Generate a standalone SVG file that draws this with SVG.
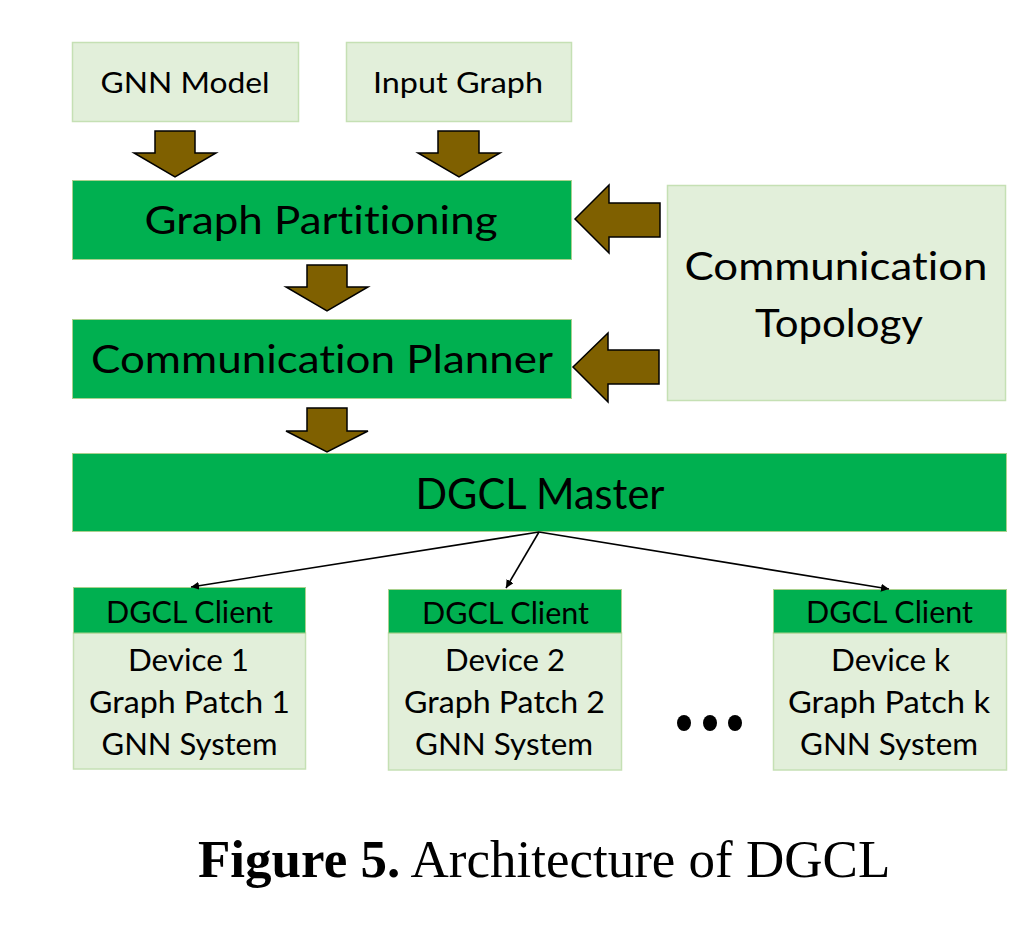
<svg xmlns="http://www.w3.org/2000/svg" width="1031" height="937" viewBox="0 0 1031 937">
  <style>
    .light { fill: #E2EFDA; stroke: #C5E0B4; stroke-width: 1.5; }
    .dark { fill: #00B050; stroke: #A9D18E; stroke-width: 1; }
    .t { font-family: Lato, "Open Sans", "Liberation Sans", sans-serif; fill: #000; text-anchor: middle; font-variant-ligatures: none; font-feature-settings: "liga" 0, "dlig" 0; }
    .big { font-size: 39px; }
    .mid { font-size: 29px; }
    .cl { font-size: 31px; }
    .block { fill: #7F6000; stroke: #000; stroke-width: 1.5; stroke-linejoin: miter; }
    .conn { stroke: #000; stroke-width: 1.6; fill: none; marker-end: url(#ah); }
    .cap { font-family: "Liberation Serif", "Times New Roman", serif; font-size: 53px; fill: #000; }
  </style>
  <defs>
    <marker id="ah" viewBox="0 0 10 10" refX="10" refY="5" markerWidth="8" markerHeight="8" markerUnits="userSpaceOnUse" orient="auto">
      <path d="M0,0 L10,5 L0,10 z" fill="#000"/>
    </marker>
  </defs>
  <rect width="1031" height="937" fill="#fff"/>

  <g id="gnn-model">
    <rect class="light" x="72.5" y="42.5" width="226" height="79"/>
    <text class="t mid" x="185" y="93" textLength="169" lengthAdjust="spacingAndGlyphs">GNN Model</text>
  </g>
  <g id="input-graph">
    <rect class="light" x="346.5" y="42.5" width="225" height="79"/>
    <text class="t mid" x="458" y="93" textLength="170" lengthAdjust="spacingAndGlyphs">Input Graph</text>
  </g>
  <g id="graph-partitioning">
    <rect class="dark" x="72.5" y="180.5" width="499" height="79"/>
    <text class="t big" x="321" y="234" textLength="353" lengthAdjust="spacingAndGlyphs">Graph Partitioning</text>
  </g>
  <g id="communication-planner">
    <rect class="dark" x="72.5" y="319.5" width="499" height="79"/>
    <text class="t big" x="322" y="373" textLength="462" lengthAdjust="spacingAndGlyphs">Communication Planner</text>
  </g>
  <g id="communication-topology">
    <rect class="light" x="667.5" y="185.5" width="338" height="215"/>
    <text class="t big" x="836" y="280" textLength="303" lengthAdjust="spacingAndGlyphs">Communication</text>
    <text class="t big" x="839" y="337" textLength="168" lengthAdjust="spacingAndGlyphs">Topology</text>
  </g>
  <g id="dgcl-master">
    <rect class="dark" x="72.5" y="453.5" width="934" height="78"/>
    <text class="t" font-size="42" x="540" y="509" textLength="249" lengthAdjust="spacingAndGlyphs">DGCL Master</text>
  </g>

  <g id="client-1">
    <rect class="light" x="73.5" y="633" width="232" height="136"/>
    <rect class="dark" x="73.5" y="587.5" width="232" height="45.5"/>
    <text class="t cl" x="189.5" y="623" textLength="167" lengthAdjust="spacingAndGlyphs">DGCL Client</text>
    <text class="t cl" x="188.5" y="671" textLength="121" lengthAdjust="spacingAndGlyphs">Device 1</text>
    <text class="t cl" x="189.5" y="713" textLength="201" lengthAdjust="spacingAndGlyphs">Graph Patch 1</text>
    <text class="t cl" x="189.5" y="755" textLength="176" lengthAdjust="spacingAndGlyphs">GNN System</text>
  </g>
  <g id="client-2">
    <rect class="light" x="388.5" y="633" width="233" height="137"/>
    <rect class="dark" x="388.5" y="589.5" width="233" height="43.5"/>
    <text class="t cl" x="505.5" y="624" textLength="167" lengthAdjust="spacingAndGlyphs">DGCL Client</text>
    <text class="t cl" x="505" y="671" textLength="120" lengthAdjust="spacingAndGlyphs">Device 2</text>
    <text class="t cl" x="504.5" y="713" textLength="201" lengthAdjust="spacingAndGlyphs">Graph Patch 2</text>
    <text class="t cl" x="504" y="755" textLength="178" lengthAdjust="spacingAndGlyphs">GNN System</text>
  </g>
  <g id="client-k">
    <rect class="light" x="773.5" y="633" width="233" height="137"/>
    <rect class="dark" x="773.5" y="589.5" width="233" height="43.5"/>
    <text class="t cl" x="889.5" y="623" textLength="167" lengthAdjust="spacingAndGlyphs">DGCL Client</text>
    <text class="t cl" x="890.5" y="671" textLength="119" lengthAdjust="spacingAndGlyphs">Device k</text>
    <text class="t cl" x="889" y="713" textLength="202" lengthAdjust="spacingAndGlyphs">Graph Patch k</text>
    <text class="t cl" x="889" y="755" textLength="178" lengthAdjust="spacingAndGlyphs">GNN System</text>
  </g>

  <g id="ellipsis">
    <ellipse cx="684" cy="723" rx="7" ry="8" fill="#000"/>
    <ellipse cx="710" cy="723" rx="7" ry="8" fill="#000"/>
    <ellipse cx="735" cy="723" rx="7" ry="8" fill="#000"/>
  </g>

  <g id="connectors">
    <polygon class="block" points="155,131 195,131 195,153 216,153 175,177 134,153 155,153"/>
    <polygon class="block" points="438,131 479,131 479,153 500,153 459,177 418,153 438,153"/>
    <polygon class="block" points="307,265 347,265 347,287 368,287 327,311 286,287 307,287"/>
    <polygon class="block" points="307,408 347,408 347,431 368,431 327,452 286,431 307,431"/>
    <polygon class="block" points="660,203 660,237 609,237 609,253 575,219 609,185 609,203"/>
    <polygon class="block" points="659,350 659,384 608,384 608,402 573,367 608,333 608,350"/>
    <line class="conn" x1="539" y1="532" x2="191" y2="587"/>
    <line class="conn" x1="539" y1="532" x2="506" y2="588"/>
    <line class="conn" x1="539" y1="532" x2="889" y2="589"/>
  </g>

  <text class="cap" x="198" y="877"><tspan font-weight="bold">Figure 5.</tspan> Architecture of DGCL</text>
</svg>
